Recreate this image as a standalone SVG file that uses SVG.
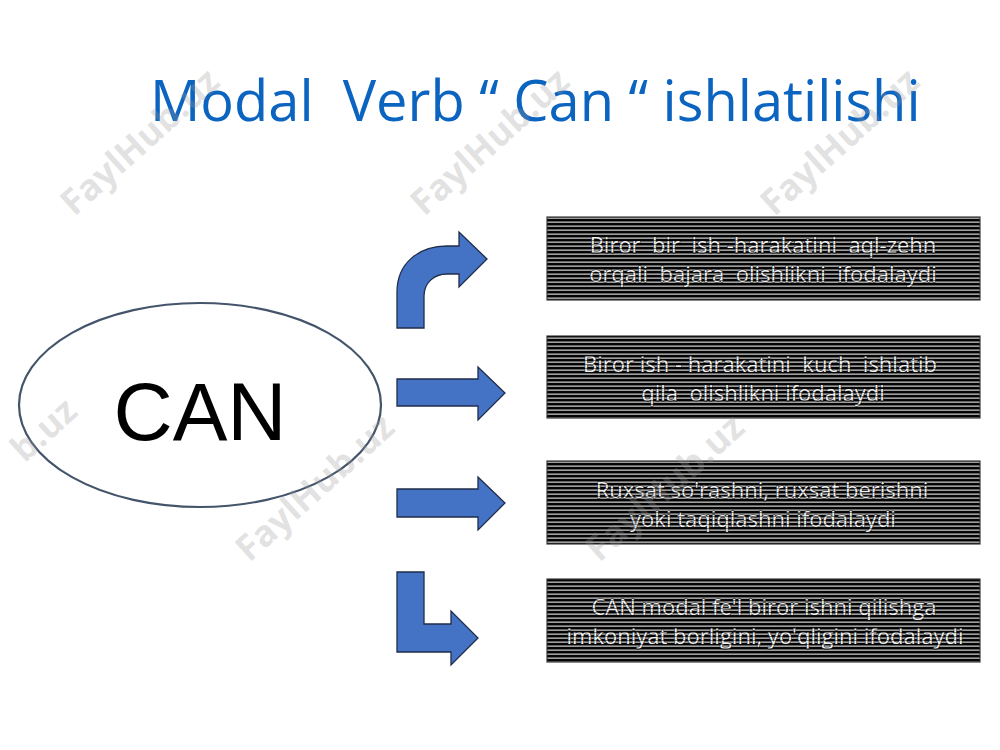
<svg xmlns="http://www.w3.org/2000/svg" width="1000" height="750" viewBox="0 0 1000 750">
<defs>
<pattern id="stripes" patternUnits="userSpaceOnUse" width="8" height="4">
<rect width="8" height="4" fill="#050505"/>
<rect y="1.5" width="8" height="1.3" fill="#c4c4c4"/>
</pattern>
<pattern id="over" patternUnits="userSpaceOnUse" width="8" height="4">
<rect y="0" width="8" height="0.9" fill="#000" fill-opacity="0.5"/>
</pattern>
<style>
.title{font-family:"Open Sans","Noto Sans",sans-serif;font-size:56px;fill:#0b64c0;white-space:pre}
.can{font-family:"Liberation Sans",Arial,sans-serif;font-size:82px;fill:#000}
.box{fill:url(#stripes);stroke:#3a3a3a;stroke-width:1.2}
.over{fill:url(#over)}
.bt{font-family:"Open Sans","Noto Sans",sans-serif;font-size:22px;fill:#f0f0f0;stroke:#111;stroke-width:1.1;paint-order:stroke;text-anchor:middle;white-space:pre}
.arrow{fill:#4472c4;stroke:#1f2d4a;stroke-width:1.3;stroke-linejoin:miter}
.wm{font-family:"Open Sans","DejaVu Sans",sans-serif;font-weight:bold;font-size:36px;fill:#9a9a9a;fill-opacity:0.28;text-anchor:middle}
</style>
</defs>
<rect width="1000" height="750" fill="#fff"/>
<text class="title" x="150" y="121">Modal  Verb “ Can “ ishlatilishi</text>

<g id="node-can">
<ellipse cx="200" cy="405" rx="181" ry="102" fill="#fff" stroke="#44546a" stroke-width="2.2"/>
<text class="can" x="200" y="440" text-anchor="middle">CAN</text>
</g>

<g id="connectors">
<path class="arrow" d="M397,328 L397,292 C397,263 419,246 447,246 L459,246 L459,232 L487,259 L459,287 L459,274 L447,274 C434,274 424,283 424,296 L424,328 Z"/>
<path class="arrow" d="M397,379 L478,379 L478,367 L505,393 L478,420 L478,406 L397,406 Z"/>
<path class="arrow" d="M397,489 L478,489 L478,477 L505,503 L478,530 L478,517 L397,517 Z"/>
<path class="arrow" d="M397,572 L424,572 L424,624 L451,624 L451,611 L478,638 L451,665 L451,652 L397,652 Z"/>
</g>

<g id="box1">
<rect class="box" x="547" y="217" width="433" height="83"/>
<text class="bt" x="763" y="253">Biror  bir  ish -harakatini  aql-zehn</text>
<text class="bt" x="763" y="282">orqali  bajara  olishlikni  ifodalaydi</text>
<rect class="over" x="547" y="217" width="433" height="83"/>
</g>
<g id="box2">
<rect class="box" x="547" y="336" width="433" height="82"/>
<text class="bt" x="760" y="372">Biror ish - harakatini  kuch  ishlatib</text>
<text class="bt" x="763" y="401">qila  olishlikni ifodalaydi</text>
<rect class="over" x="547" y="336" width="433" height="82"/>
</g>
<g id="box3">
<rect class="box" x="547" y="461" width="433" height="83"/>
<text class="bt" x="762" y="498">Ruxsat so'rashni, ruxsat berishni</text>
<text class="bt" x="763" y="527">yoki taqiqlashni ifodalaydi</text>
<rect class="over" x="547" y="461" width="433" height="83"/>
</g>
<g id="box4">
<rect class="box" x="547" y="579" width="433" height="83"/>
<text class="bt" x="764" y="615">CAN modal fe'l biror ishni qilishga</text>
<text class="bt" x="765" y="644">imkoniyat borligini, yo'qligini ifodalaydi</text>
<rect class="over" x="547" y="579" width="433" height="83"/>
</g>

<g id="watermarks">
<text class="wm" transform="translate(140,142) rotate(-42)" y="12">FaylHub.uz</text>
<text class="wm" transform="translate(490,142) rotate(-42)" y="12">FaylHub.uz</text>
<text class="wm" transform="translate(840,142) rotate(-42)" y="12">FaylHub.uz</text>
<text class="wm" transform="translate(44,430) rotate(-42)" y="12">b.uz</text>
<text class="wm" transform="translate(315,488) rotate(-42)" y="12">FaylHub.uz</text>
<text class="wm" transform="translate(665,488) rotate(-42)" y="12">FaylHub.uz</text>
</g>
</svg>
